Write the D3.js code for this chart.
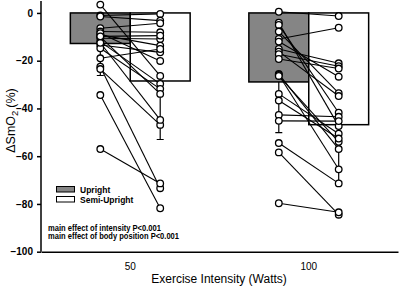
<!DOCTYPE html>
<html>
<head>
<meta charset="utf-8">
<script src="https://cdn.jsdelivr.net/npm/d3@7"></script>
<style>
body { margin: 0; background: #fff; }
svg { display: block; font-family: Arial, "Liberation Sans", sans-serif; }
</style>
</head>
<body>
<div id="chart"></div>
<script>
// Data
const intensities = ["50", "100"];
const positions = ["Upright", "Semi-Upright"];
const meanUpright = [-12.8, -28.9];
const meanSemi = [-28.5, -46.8];
const sdUpright = [13.4, 21.2];
const sdSemi = [24.5, 23.9];

// individual subjects, paired by index
const upright50 = [3.5, -1.1, -1.5, -6.4, -7.8, -9.2, -10.6, -12, -13.4, -14.8, -19, -22.5, -23.5, -34.4, -57, -8.5, -10, -12.5, -9.8];
const semi50 = [-26.4, -0.4, -3.2, -4.3, -8.1, -13.7, -10.9, -29.7, -16.5, -31.8, -15.1, -73.4, -46.9, -81.8, -71.4, -20.1, -33.9, -44.8, -9.5];
const upright100 = [0.5, -4.1, -5, -7.8, -10.9, -12, -15.1, -16.2, -17.3, -19.3, -25.6, -26, -26.4, -33.9, -36.7, -42.7, -45.2, -54.5, -58.4, -79.7];
const semi100 = [-1.3, -47.4, -41.8, -33.6, -6.2, -26.7, -21.1, -34.8, -22.3, -23.3, -57, -65.5, -54, -50.6, -52.6, -43.5, -45.3, -71.4, -84.5, -83.5];

const yTicks = [0, -20, -40, -60, -80, -100];

const width = 400;
const height = 288;

const svg = d3.select("#chart")
    .append("svg")
    .attr("width", width)
    .attr("height", height);

// Scales
const x0 = d3.scaleBand()
    .domain(intensities)
    .range([41, 398]);

const x1 = d3.scaleBand()
    .domain(positions)
    .range([0, x0.bandwidth()])
    .paddingOuter(0.49);

const y = d3.scaleLinear()
    .domain([-100, 5])
    .range([251.7, 1]);

const bars = [];
intensities.forEach((k, i) => {
    bars.push({ g: k, pos: "Upright", mean: meanUpright[i], sd: sdUpright[i], fill: "#858585" });
    bars.push({ g: k, pos: "Semi-Upright", mean: meanSemi[i], sd: sdSemi[i], fill: "#ffffff" });
});
const cx = d => x0(d.g) + x1(d.pos) + x1.bandwidth() / 2;

// Bars
svg.selectAll(".bar")
    .data(bars)
    .enter()
    .append("rect")
    .attr("class", "bar")
    .attr("x", d => x0(d.g) + x1(d.pos))
    .attr("y", y(0))
    .attr("width", x1.bandwidth())
    .attr("height", d => y(d.mean) - y(0))
    .attr("fill", d => d.fill)
    .attr("stroke", "#000")
    .attr("stroke-width", 1.5);

// Error bars (downward only)
svg.selectAll(".err")
    .data(bars)
    .enter()
    .append("path")
    .attr("class", "err")
    .attr("d", d => {
        const c = cx(d), y1 = y(d.mean), y2 = y(d.mean - d.sd);
        return `M${c},${y1}V${y2}M${c - 3.5},${y2}H${c + 3.5}`;
    })
    .attr("fill", "none")
    .attr("stroke", "#000")
    .attr("stroke-width", 1.2);

// Paired subject lines and circles
const pairs = [
    { g: "50", a: upright50, b: semi50 },
    { g: "100", a: upright100, b: semi100 }
];
pairs.forEach(p => {
    const xa = x0(p.g) + x1("Upright") + x1.bandwidth() / 2;
    const xb = x0(p.g) + x1("Semi-Upright") + x1.bandwidth() / 2;
    const grp = svg.append("g");
    grp.selectAll("line")
        .data(p.a.map((v, i) => [v, p.b[i]]))
        .enter()
        .append("line")
        .attr("x1", xa)
        .attr("y1", d => y(d[0]))
        .attr("x2", xb)
        .attr("y2", d => y(d[1]))
        .attr("stroke", "#000")
        .attr("stroke-width", 1.1);
    const pts = p.a.map(v => [xa, v]).concat(p.b.map(v => [xb, v]));
    grp.selectAll("circle")
        .data(pts)
        .enter()
        .append("circle")
        .attr("cx", d => d[0])
        .attr("cy", d => y(d[1]))
        .attr("r", 3.3)
        .attr("fill", "#fff")
        .attr("stroke", "#000")
        .attr("stroke-width", 1.3);
});

// Axes
const yAxis = svg.append("g")
    .attr("transform", "translate(41,0)")
    .call(d3.axisLeft(y).tickValues(yTicks).tickSize(4).tickSizeOuter(0));
yAxis.select(".domain").attr("d", `M0,${y(5)}V${y(-100)}`).attr("stroke-width", 1.5);
yAxis.selectAll(".tick line").attr("stroke-width", 1.5);
yAxis.selectAll(".tick text")
    .attr("x", -8)
    .style("font-size", "10px")
    .style("font-weight", "bold")
    .style("font-family", "Arial, 'Liberation Sans', sans-serif");

const xAxis = svg.append("g")
    .attr("transform", `translate(0,${y(-100)})`)
    .call(d3.axisBottom(x0).tickSize(0).tickSizeOuter(0));
xAxis.select(".domain").attr("stroke-width", 1.5);
xAxis.selectAll(".tick text")
    .attr("y", 11)
    .style("font-size", "10px")
    .style("font-family", "Arial, 'Liberation Sans', sans-serif");

// Axis titles
const yTitle = svg.append("text")
    .attr("transform", "translate(14.5,120.5) rotate(-90)")
    .attr("text-anchor", "middle")
    .style("font-size", "12.5px");
yTitle.append("tspan").text("\u0394SmO");
yTitle.append("tspan").attr("dy", 3).style("font-size", "9.5px").text("2");
yTitle.append("tspan").attr("dy", -3).attr("dx", 3).text("(%)");

svg.append("text")
    .attr("x", 219)
    .attr("y", 283)
    .attr("text-anchor", "middle")
    .style("font-size", "12px")
    .text("Exercise Intensity (Watts)");

// Legend
const legend = svg.append("g");
positions.forEach((p, i) => {
    legend.append("rect")
        .attr("x", 56.5)
        .attr("y", 186.5 + i * 10)
        .attr("width", 18)
        .attr("height", 5.5)
        .attr("fill", i === 0 ? "#858585" : "#fff")
        .attr("stroke", "#000")
        .attr("stroke-width", 1);
    legend.append("text")
        .attr("x", 80)
        .attr("y", 192.5 + i * 10)
        .style("font-size", "8.5px")
        .style("font-weight", "bold")
        .text(p);
});

// Stats annotation
const notes = ["main effect of intensity P<0.001", "main effect of body position P<0.001"];
const noteWidths = [113, 131];
svg.selectAll(".note")
    .data(notes)
    .enter()
    .append("text")
    .attr("class", "note")
    .attr("x", 48)
    .attr("y", (d, i) => 230.7 + i * 8.6)
    .attr("textLength", (d, i) => noteWidths[i])
    .attr("lengthAdjust", "spacingAndGlyphs")
    .style("font-size", "8.3px")
    .style("font-weight", "bold")
    .text(d => d);
</script>
</body>
</html>
